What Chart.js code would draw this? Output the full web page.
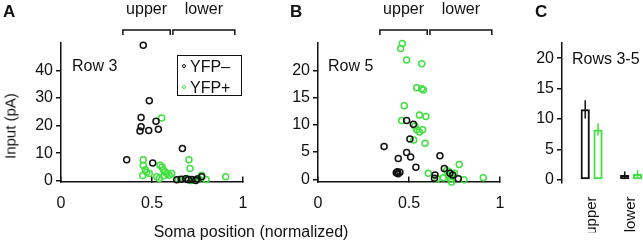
<!DOCTYPE html>
<html>
<head>
<meta charset="utf-8">
<script src="https://cdn.jsdelivr.net/npm/chart.js@4.4.1/dist/chart.umd.min.js"></script>
<style>
  html, body { margin: 0; padding: 0; background: #fff; overflow: hidden; }
  body { width: 643px; height: 242px; position: relative; font-family: "Liberation Sans", Arial, sans-serif; color: #111; }
  canvas { position: absolute; top: 0; }
  .txt { position: absolute; font-size: 16px; line-height: 1; white-space: nowrap; }
  .panel { position: absolute; font-size: 17px; font-weight: bold; line-height: 1; }
  .legend { position: absolute; left: 177px; top: 55px; width: 65px; height: 41px; border: 1.5px solid #111; box-sizing: border-box; }
  .mark { position: absolute; width: 2px; height: 2px; border: 1.5px solid; border-radius: 50%; }
</style>
</head>
<body>
<canvas id="rowA" width="255" height="242" style="left:0px"></canvas>
<canvas id="rowB" width="260" height="242" style="left:250px"></canvas>
<canvas id="rowsC" width="170" height="242" style="left:500px"></canvas>

<div class="panel" style="left:3px;top:3px">A</div>
<div class="panel" style="left:290px;top:3px">B</div>
<div class="panel" style="left:535px;top:3px">C</div>

<div class="txt" style="left:72px;top:58px">Row 3</div>
<div class="txt" style="left:328px;top:58px">Row 5</div>
<div class="txt" style="left:572px;top:51px">Rows 3-5</div>

<div class="legend"></div>
<div class="mark" style="left:182px;top:64px;border-color:#111"></div>
<div class="txt" style="left:190px;top:59px">YFP–</div>
<div class="mark" style="left:182px;top:85px;border-color:#3fe03f"></div>
<div class="txt" style="left:190px;top:80px">YFP+</div>

<div class="txt" style="left:10px;top:126px;font-size:15px;transform:translate(-50%,-50%) rotate(-90deg)">Input (pA)</div>
<div class="txt" style="left:151px;top:224px;width:200px;text-align:center">Soma position (normalized)</div>

<script>
// Row 3 (panel A)
const row3NegX = [0.452, 0.485, 0.44, 0.522, 0.44, 0.434, 0.482, 0.535, 0.361, 0.504, 0.667, 0.636, 0.685, 0.718, 0.749, 0.773, 0.70, 0.66, 0.74];
const row3NegY = [49.2, 29.0, 22.9, 21.6, 19.6, 18.0, 18.2, 18.7, 7.6, 6.4, 11.7, 0.3, 0.7, 0.4, 0.6, 1.4, 0.3, 0.5, 0.1];
const row3PosX = [0.553, 0.452, 0.452, 0.463, 0.471, 0.485, 0.449, 0.526, 0.544, 0.555, 0.562, 0.571, 0.581, 0.595, 0.608, 0.54, 0.703, 0.709, 0.645, 0.694, 0.727, 0.74, 0.755, 0.773, 0.797, 0.905, 0.565, 0.715];
const row3PosY = [22.8, 7.6, 5.5, 4.0, 3.1, 2.6, 1.9, 1.4, 5.6, 5.0, 4.0, 3.2, 2.6, 2.0, 2.6, 0.8, 7.6, 4.4, 0.4, 0.8, 0.2, 0.2, 0.8, 2.0, 0.4, 1.4, 1.8, 0.1];

// Row 5 (panel B)
const row5NegX = [0.487, 0.524, 0.505, 0.363, 0.441, 0.487, 0.509, 0.538, 0.43, 0.44, 0.45, 0.436, 0.670, 0.694, 0.643, 0.64, 0.725, 0.771, 0.74];
const row5NegY = [10.8, 10.1, 7.4, 6.0, 3.8, 4.9, 4.1, 2.2, 1.2, 1.0, 1.3, 1.4, 4.3, 2.0, 0.8, 0.2, 1.1, 0.1, 0.8];
const row5PosX = [0.463, 0.454, 0.487, 0.570, 0.542, 0.570, 0.579, 0.474, 0.46, 0.557, 0.593, 0.533, 0.542, 0.557, 0.575, 0.526, 0.588, 0.606, 0.655, 0.689, 0.707, 0.716, 0.729, 0.734, 0.74, 0.75, 0.776, 0.802, 0.908, 0.72];
const row5PosY = [24.9, 24.0, 21.9, 21.2, 16.8, 16.6, 16.4, 13.5, 10.8, 11.8, 11.5, 9.8, 9.1, 8.7, 9.1, 7.2, 6.6, 1.1, 0.1, 0.3, 1.6, 0.8, 0.0, -0.5, 0.6, 1.1, 2.7, -0.1, 0.3, 1.4];

// Rows 3-5 summary (panel C)
const categories = ['upper', 'lower'];
const negMean = [11.6, 0.8];
const negErr = [1.5, 0.6];
const posMean = [8.3, 1.0];
const posErr = [1.0, 0.6];

// ticks and layer brackets
const xTicks = [0, 0.5, 1];
const yTicksA = [0, 10, 20, 30, 40];
const yTicksB = [0, 5, 10, 15, 20];
const yTicksC = [0, 5, 10, 15, 20];
const layerNames = ['upper', 'lower'];
const layerRanges = [[0.34, 0.60], [0.615, 0.955]];

const INK = '#111';
const GREEN = '#3fe03f';
const FONT = '"Liberation Sans", Arial, sans-serif';

function pts(xs, ys) {
    return xs.map((x, i) => ({ x: x, y: ys[i] }));
}

function dots(xs, ys, color) {
    return {
        data: pts(xs, ys),
        borderColor: color,
        backgroundColor: 'rgba(0,0,0,0)',
        pointRadius: 3,
        borderWidth: 1.5,
        clip: false
    };
}

// keep the scale from pushing the plot area in for its edge labels
function fixHeight(h) {
    return s => { s.height = h; s.paddingLeft = 0; s.paddingRight = 0; };
}

// brackets with "upper" / "lower" above the scatter panels
const brackets = {
    id: 'brackets',
    afterDraw(chart) {
        const ctx = chart.ctx;
        const xs = chart.scales.x;
        ctx.save();
        ctx.strokeStyle = INK;
        ctx.lineWidth = 1.5;
        ctx.fillStyle = INK;
        ctx.font = '16px ' + FONT;
        ctx.textAlign = 'center';
        ctx.textBaseline = 'alphabetic';
        layerRanges.forEach((r, i) => {
            const x1 = xs.getPixelForValue(r[0]);
            const x2 = xs.getPixelForValue(r[1]);
            ctx.beginPath();
            ctx.moveTo(x1, 35);
            ctx.lineTo(x1, 30);
            ctx.lineTo(x2, 30);
            ctx.lineTo(x2, 35);
            ctx.stroke();
            ctx.fillText(layerNames[i], (x1 + x2) / 2, 14);
        });
        ctx.restore();
    }
};

function scatterChart(id, negX, negY, posX, posY, yTicks, yMin, yMax, yWidth, padRight) {
    new Chart(document.getElementById(id), {
        type: 'scatter',
        data: {
            datasets: [dots(negX, negY, INK), dots(posX, posY, GREEN)]
        },
        options: {
            responsive: false,
            animation: false,
            devicePixelRatio: 1,
            layout: { autoPadding: false, padding: { left: 0, top: 43, right: padRight, bottom: 30.5 } },
            plugins: { legend: { display: false }, tooltip: { enabled: false } },
            scales: {
                x: {
                    type: 'linear', min: 0, max: 1,
                    afterFit: fixHeight(30),
                    afterBuildTicks: s => { s.ticks = xTicks.map(v => ({ value: v })); },
                    grid: { drawOnChartArea: false, tickLength: -5, color: INK, lineWidth: 1.5 },
                    border: { color: INK, width: 1.5 },
                    ticks: { color: INK, font: { size: 16, family: FONT }, padding: 17, maxRotation: 0, callback: v => String(v) }
                },
                y: {
                    min: yMin, max: yMax,
                    afterFit: s => { s.width = yWidth; s.paddingTop = 0; s.paddingBottom = 0; },
                    afterBuildTicks: s => { s.ticks = yTicks.map(v => ({ value: v })); },
                    grid: { drawOnChartArea: false, tickLength: 5, color: INK, lineWidth: 1.5 },
                    border: { color: INK, width: 1.5 },
                    ticks: { color: INK, font: { size: 16, family: FONT }, padding: 3 }
                }
            }
        },
        plugins: [brackets]
    });
}

scatterChart('rowA', row3NegX, row3NegY, row3PosX, row3PosY, yTicksA, -0.3, 50, 61, 12);
scatterChart('rowB', row5NegX, row5NegY, row5PosX, row5PosY, yTicksB, -0.4, 25, 68, 10);

// error bars for panel C
const errorBars = {
    id: 'errorBars',
    afterDatasetsDraw(chart) {
        const ctx = chart.ctx;
        const ys = chart.scales.y;
        ctx.save();
        ctx.lineWidth = 1.5;
        chart.data.datasets.forEach((ds, i) => {
            const meta = chart.getDatasetMeta(i);
            ctx.strokeStyle = ds.borderColor;
            meta.data.forEach((bar, j) => {
                const m = ds.data[j].y;
                const e = ds.errors[j];
                ctx.beginPath();
                ctx.moveTo(bar.x, ys.getPixelForValue(m - e));
                ctx.lineTo(bar.x, ys.getPixelForValue(m + e));
                ctx.stroke();
            });
        });
        ctx.restore();
    }
};

function barSet(means, errs, color) {
    return {
        data: means.map((m, i) => ({ x: i + 1, y: m })),
        errors: errs,
        borderColor: color,
        backgroundColor: 'rgba(255,255,255,0)',
        borderWidth: 2,
        borderSkipped: false,
        categoryPercentage: 0.65,
        barPercentage: 0.72
    };
}

new Chart(document.getElementById('rowsC'), {
    type: 'bar',
    data: {
        datasets: [barSet(negMean, negErr, INK), barSet(posMean, posErr, GREEN)]
    },
    options: {
        responsive: false,
        animation: false,
        devicePixelRatio: 1,
        layout: { autoPadding: false, padding: { left: 0, top: 43, right: 9.25, bottom: 9.6 } },
        plugins: { legend: { display: false }, tooltip: { enabled: false } },
        scales: {
            x: {
                type: 'linear', min: 0.25, max: 2.75, offset: false,
                afterFit: fixHeight(50),
                afterBuildTicks: s => { s.ticks = categories.map((c, i) => ({ value: i + 1 })); },
                grid: { display: false },
                border: { display: false },
                ticks: { color: INK, font: { size: 15, family: FONT }, padding: 6, autoSkip: false,
                    minRotation: 90, maxRotation: 90, callback: (v, i) => categories[i] }
            },
            y: {
                min: -0.4, max: 22.5,
                afterFit: s => { s.width = 62; s.paddingTop = 0; s.paddingBottom = 0; },
                afterBuildTicks: s => { s.ticks = yTicksC.map(v => ({ value: v })); },
                grid: { drawOnChartArea: false, tickLength: 5, color: INK, lineWidth: 1.5 },
                border: { color: INK, width: 1.5 },
                ticks: { color: INK, font: { size: 16, family: FONT }, padding: 3 }
            }
        }
    },
    plugins: [errorBars]
});
</script>
</body>
</html>
